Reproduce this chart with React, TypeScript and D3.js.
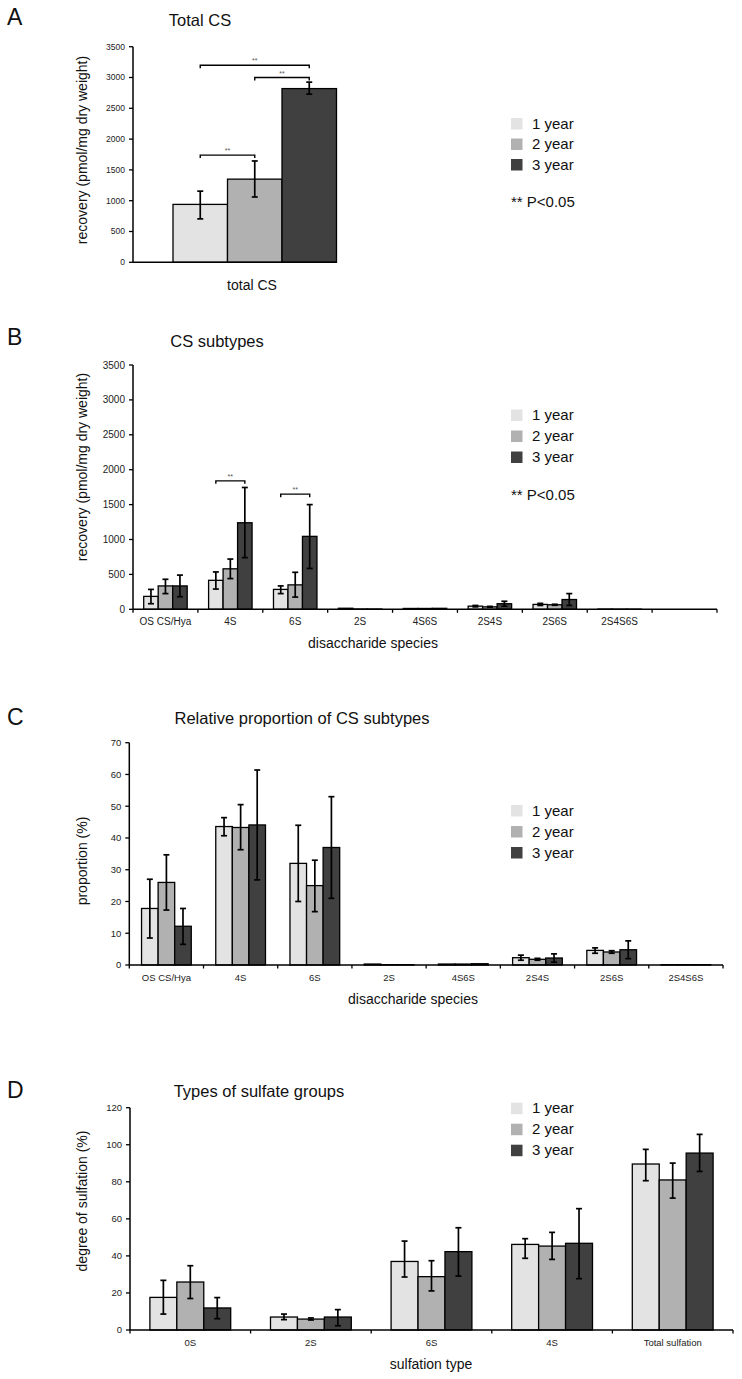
import React from "react";
import * as d3 from "d3";

// ---------- shared ----------
const SERIES = ["1 year", "2 year", "3 year"];
const SERIES_COLORS = ["#e3e3e3", "#b1b1b1", "#404040"];
const SIG_LABEL = "** P<0.05";

// ---------- Panel A : Total CS ----------
const totalCategories = ["total CS"];
const totalMean = [[940], [1350], [2820]];
const totalLow = [[705], [1060], [2730]];
const totalHigh = [[1155], [1645], [2925]];
const totalTicks = [0, 500, 1000, 1500, 2000, 2500, 3000, 3500];
const totalSigCats = ["total CS", "total CS", "total CS"];
const totalSigPairs = [[0, 2], [1, 2], [0, 1]];
const totalSigLevels = [3200, 3000, 1740];

// ---------- Panel B : CS subtypes ----------
const subtypeCategories = ["OS CS/Hya", "4S", "6S", "2S", "4S6S", "2S4S", "2S6S", "2S4S6S", ""];
const subtypeMean = [
  [185, 415, 285, 15, 12, 45, 70, 3, 0],
  [335, 580, 350, 4, 12, 35, 65, 2, 0],
  [335, 1240, 1045, 4, 14, 80, 140, 2, 0],
];
const subtypeLow = [
  [80, 290, 225, 15, 12, 35, 55, 3, 0],
  [225, 440, 175, 4, 12, 30, 58, 2, 0],
  [180, 740, 585, 4, 14, 45, 55, 2, 0],
];
const subtypeHigh = [
  [285, 535, 335, 15, 12, 55, 85, 3, 0],
  [430, 720, 530, 4, 12, 42, 72, 2, 0],
  [490, 1745, 1500, 4, 14, 115, 225, 2, 0],
];
const subtypeTicks = [0, 500, 1000, 1500, 2000, 2500, 3000, 3500];
const subtypeSigCats = ["4S", "6S"];
const subtypeSigPairs = [[0, 2], [0, 2]];
const subtypeSigLevels = [1840, 1650];

// ---------- Panel C : Relative proportion ----------
const proportionCategories = ["OS CS/Hya", "4S", "6S", "2S", "4S6S", "2S4S", "2S6S", "2S4S6S"];
const proportionMean = [
  [17.8, 43.6, 32.0, 0.3, 0.3, 2.3, 4.6, 0.1],
  [26.0, 43.3, 25.0, 0.1, 0.3, 1.8, 4.1, 0.1],
  [12.2, 44.1, 37.0, 0.1, 0.4, 2.2, 4.8, 0.1],
];
const proportionLow = [
  [8.5, 40.7, 20.0, 0.3, 0.3, 1.5, 3.7, 0.1],
  [17.3, 36.3, 16.8, 0.1, 0.3, 1.5, 3.7, 0.1],
  [6.5, 26.8, 21.0, 0.1, 0.4, 0.9, 2.0, 0.1],
];
const proportionHigh = [
  [27.0, 46.4, 44.0, 0.3, 0.3, 3.1, 5.4, 0.1],
  [34.7, 50.5, 33.0, 0.1, 0.3, 2.1, 4.5, 0.1],
  [17.8, 61.4, 53.0, 0.1, 0.4, 3.5, 7.6, 0.1],
];
const proportionTicks = [0, 10, 20, 30, 40, 50, 60, 70];

// ---------- Panel D : Types of sulfate groups ----------
const sulfateCategories = ["0S", "2S", "6S", "4S", "Total sulfation"];
const sulfateMean = [
  [17.6, 7.0, 37.0, 46.2, 89.6],
  [25.9, 5.9, 28.8, 45.3, 81.0],
  [11.9, 7.0, 42.3, 46.8, 95.5],
];
const sulfateLow = [
  [8.6, 5.6, 28.6, 38.7, 80.6],
  [17.0, 5.4, 21.1, 38.1, 71.2],
  [6.1, 2.3, 29.1, 27.7, 85.6],
];
const sulfateHigh = [
  [26.8, 8.6, 48.0, 49.3, 97.5],
  [34.7, 6.5, 37.4, 52.7, 90.1],
  [17.5, 11.0, 55.2, 65.5, 105.6],
];
const sulfateTicks = [0, 20, 40, 60, 80, 100, 120];

const FONT = "'Liberation Sans', Arial, Helvetica, sans-serif";

type PanelProps = {
  cats: string[];
  mean: number[][];
  low: number[][];
  high: number[][];
  ticks: number[];
  axisX0: number;
  axisX1: number;
  y0: number;
  y1: number;
  groupRange?: [number, number];
  yTickSize: number;
  xTickSize: number;
  xCatTicks: boolean;
  showCatLabels: boolean;
  sigCats?: string[];
  sigPairs?: number[][];
  sigLevels?: number[];
};

function Panel(p: PanelProps) {
  const y = d3.scaleLinear().domain([p.ticks[0], p.ticks[p.ticks.length - 1]]).range([p.y0, p.y1]);
  const gx = p.groupRange
    ? d3.scaleBand<string>().domain(p.cats).range(p.groupRange).padding(0)
    : d3.scaleBand<string>().domain(p.cats).range([p.axisX0, p.axisX1]).paddingInner(0.33).paddingOuter(0.165);
  const sx = d3.scaleBand<string>().domain(SERIES).range([0, gx.bandwidth()]);
  const bw = sx.bandwidth();
  const step = gx.step();
  const boundaries = d3.range(p.cats.length + 1).map((i) => p.axisX0 + i * step);
  const cap = 3;

  const bars: JSX.Element[] = [];
  const errs: JSX.Element[] = [];
  SERIES.forEach((s, si) => {
    p.cats.forEach((c, ci) => {
      const v = p.mean[si][ci];
      if (v <= 0) return;
      const x = (gx(c) as number) + (sx(s) as number);
      bars.push(
        <rect key={`b${si}-${ci}`} x={x} y={y(v)} width={bw} height={y(0) - y(v)}
          fill={SERIES_COLORS[si]} stroke="#000" strokeWidth={1.3} />
      );
      const lo = p.low[si][ci];
      const hi = p.high[si][ci];
      if (hi - lo > 0) {
        const cx = x + bw / 2;
        errs.push(
          <g key={`e${si}-${ci}`} stroke="#000" strokeWidth={1.7}>
            <line x1={cx} x2={cx} y1={y(lo)} y2={y(hi)} />
            <line x1={cx - cap} x2={cx + cap} y1={y(lo)} y2={y(lo)} />
            <line x1={cx - cap} x2={cx + cap} y1={y(hi)} y2={y(hi)} />
          </g>
        );
      }
    });
  });

  const sig: JSX.Element[] = [];
  (p.sigCats || []).forEach((c, i) => {
    const [a, b] = p.sigPairs![i];
    const xa = (gx(c) as number) + (sx(SERIES[a]) as number) + bw / 2;
    const xb = (gx(c) as number) + (sx(SERIES[b]) as number) + bw / 2;
    const yy = y(p.sigLevels![i]);
    sig.push(
      <g key={`s${i}`}>
        <path d={`M${xa},${yy + 3}V${yy}H${xb}V${yy + 3}`} fill="none" stroke="#000" strokeWidth={1.4} />
        <text x={(xa + xb) / 2} y={yy - 2} textAnchor="middle" fontSize={7} fill="#555">**</text>
      </g>
    );
  });

  return (
    <g fontFamily={FONT}>
      {bars}
      {errs}
      {/* y axis */}
      <line x1={p.axisX0} x2={p.axisX0} y1={y(p.ticks[0])} y2={y(p.ticks[p.ticks.length - 1])} stroke="#000" strokeWidth={1.5} />
      {p.ticks.map((t) => (
        <g key={`yt${t}`}>
          <line x1={p.axisX0 - 4} x2={p.axisX0} y1={y(t)} y2={y(t)} stroke="#000" strokeWidth={1.3} />
          <text x={p.axisX0 - 8} y={y(t)} dy="0.35em" textAnchor="end" fontSize={p.yTickSize} fill="#222">{t}</text>
        </g>
      ))}
      {/* x axis */}
      <line x1={p.axisX0} x2={p.axisX1} y1={y(0)} y2={y(0)} stroke="#000" strokeWidth={1.5} />
      {p.xCatTicks && boundaries.map((bx, i) => (
        <line key={`xt${i}`} x1={bx} x2={bx} y1={y(0)} y2={y(0) + 3.5} stroke="#000" strokeWidth={1.3} />
      ))}
      {p.showCatLabels && p.cats.map((c) => (
        <text key={`xl${c}`} x={(gx(c) as number) + gx.bandwidth() / 2} y={y(0) + 12.5} dy="0.35em"
          textAnchor="middle" fontSize={p.xTickSize} fill="#222">{c}</text>
      ))}
      {sig}
    </g>
  );
}

function Legend({ x, y, gap, withSig, sigY }: { x: number; y: number; gap: number; withSig: boolean; sigY?: number }) {
  return (
    <g fontFamily={FONT} fontSize={15} fill="#111">
      {SERIES.map((s, i) => (
        <g key={s}>
          <rect x={x} y={y + i * gap} width={11.5} height={11.5} fill={SERIES_COLORS[i]} />
          <text x={x + 21} y={y + i * gap + 10.5}>{s}</text>
        </g>
      ))}
      {withSig && <text x={x} y={sigY}>{SIG_LABEL}</text>}
    </g>
  );
}

function YLabel({ x, y, text }: { x: number; y: number; text: string }) {
  return (
    <text transform={`translate(${x},${y}) rotate(-90)`} textAnchor="middle" fontFamily={FONT} fontSize={14} fill="#111">
      {text}
    </text>
  );
}

export default function App() {
  return (
    <svg width={742} height={1379} viewBox="0 0 742 1379"
      style={{ position: "absolute", left: 0, top: 0, display: "block", background: "#fff" }}>
      <rect x={0} y={0} width={742} height={1379} fill="#fff" />
      <g fontFamily={FONT} fill="#111">
        <text x={7} y={25} fontSize={23}>A</text>
        <text x={200} y={26} fontSize={16.5} textAnchor="middle">Total CS</text>
        <text x={7} y={345} fontSize={23}>B</text>
        <text x={217} y={346.5} fontSize={16.5} textAnchor="middle">CS subtypes</text>
        <text x={7} y={725} fontSize={23}>C</text>
        <text x={302} y={724} fontSize={16.5} textAnchor="middle">Relative proportion of CS subtypes</text>
        <text x={7} y={1098} fontSize={23}>D</text>
        <text x={259} y={1097} fontSize={16.5} textAnchor="middle">Types of sulfate groups</text>

        <text x={252} y={290} fontSize={14} textAnchor="middle">total CS</text>
        <text x={373} y={648} fontSize={14} textAnchor="middle">disaccharide species</text>
        <text x={413} y={1004} fontSize={14} textAnchor="middle">disaccharide species</text>
        <text x={431} y={1369} fontSize={14} textAnchor="middle">sulfation type</text>
      </g>

      <YLabel x={87} y={150} text="recovery (pmol/mg dry weight)" />
      <YLabel x={87} y={467} text="recovery (pmol/mg dry weight)" />
      <YLabel x={87} y={861} text="proportion (%)" />
      <YLabel x={87} y={1201} text="degree of sulfation (%)" />

      <Panel cats={totalCategories} mean={totalMean} low={totalLow} high={totalHigh} ticks={totalTicks}
        axisX0={133} axisX1={337} y0={262.3} y1={46.7} groupRange={[173, 336.5]}
        yTickSize={8.5} xTickSize={10} xCatTicks={false} showCatLabels={false}
        sigCats={totalSigCats} sigPairs={totalSigPairs} sigLevels={totalSigLevels} />
      <Legend x={511} y={118} gap={20.5} withSig={true} sigY={206.5} />

      <Panel cats={subtypeCategories} mean={subtypeMean} low={subtypeLow} high={subtypeHigh} ticks={subtypeTicks}
        axisX0={133} axisX1={717} y0={609.3} y1={365}
        yTickSize={10} xTickSize={10} xCatTicks={true} showCatLabels={true}
        sigCats={subtypeSigCats} sigPairs={subtypeSigPairs} sigLevels={subtypeSigLevels} />
      <Legend x={511} y={409.5} gap={21} withSig={true} sigY={500} />

      <Panel cats={proportionCategories} mean={proportionMean} low={proportionLow} high={proportionHigh} ticks={proportionTicks}
        axisX0={129.3} axisX1={723} y0={965} y1={742.7}
        yTickSize={9.5} xTickSize={9.5} xCatTicks={true} showCatLabels={true} />
      <Legend x={511} y={805} gap={21} withSig={false} />

      <Panel cats={sulfateCategories} mean={sulfateMean} low={sulfateLow} high={sulfateHigh} ticks={sulfateTicks}
        axisX0={130} axisX1={733} y0={1330} y1={1107.7}
        yTickSize={9.5} xTickSize={9.5} xCatTicks={true} showCatLabels={true} />
      <Legend x={511} y={1102.7} gap={21} withSig={false} />
    </svg>
  );
}
